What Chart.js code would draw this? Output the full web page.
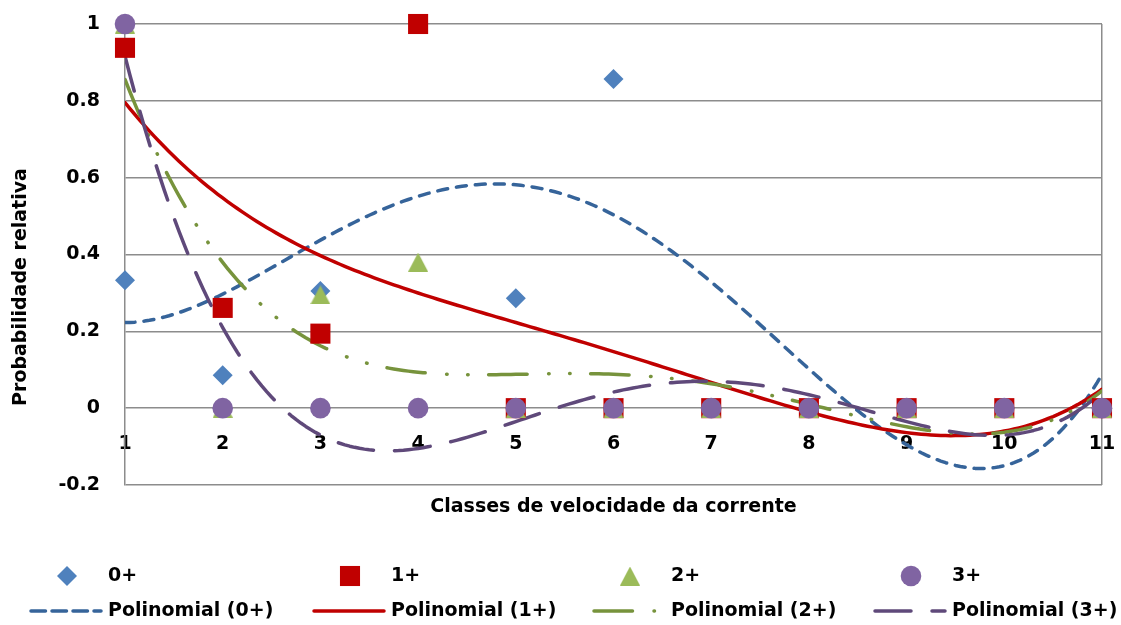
<!DOCTYPE html>
<html>
<head>
<meta charset="utf-8">
<script src="https://cdn.jsdelivr.net/npm/chart.js@4.4.1/dist/chart.umd.min.js"></script>
<style>
  html, body { margin: 0; padding: 0; background: #ffffff; }
  #wrap { position: relative; width: 1121px; height: 625px; }
</style>
</head>
<body>
<div id="wrap"><canvas id="chart" width="1121" height="625"></canvas></div>
<script>
// Current-speed classes and relative probability per age group
const classes = [1, 2, 3, 4, 5, 6, 7, 8, 9, 10, 11];
const age0 = [0.333, 0.086, 0.305, 1, 0.286, 0.857, 0, 0, 0, 0, 0];
const age1 = [0.938, 0.261, 0.194, 1, 0, 0, 0, 0, 0, 0, 0];
const age2 = [1, 0, 0.295, 0.38, 0, 0, 0, 0, 0, 0, 0];
const age3 = [1, 0, 0, 0, 0, 0, 0, 0, 0, 0, 0];
const groupNames = ['0+', '1+', '2+', '3+'];
const yTicks = [-0.2, 0, 0.2, 0.4, 0.6, 0.8, 1];
const trendDegree = 4;

const FONT = '"DejaVu Sans"';
const FS = 19;
const GRID = '#8c8c8c';

// least-squares polynomial fit (x centred/scaled for numerical stability)
function polyFit(xs, ys, deg) {
  const mid = (xs[0] + xs[xs.length - 1]) / 2;
  const half = (xs[xs.length - 1] - xs[0]) / 2;
  const t = xs.map(x => (x - mid) / half);
  const n = deg + 1;
  const A = [], b = [];
  for (let i = 0; i < n; i++) {
    A.push(new Array(n).fill(0));
    b.push(0);
  }
  t.forEach((tv, k) => {
    for (let i = 0; i < n; i++) {
      b[i] += ys[k] * Math.pow(tv, i);
      for (let j = 0; j < n; j++) A[i][j] += Math.pow(tv, i + j);
    }
  });
  for (let c = 0; c < n; c++) {
    let p = c;
    for (let r = c + 1; r < n; r++) if (Math.abs(A[r][c]) > Math.abs(A[p][c])) p = r;
    [A[c], A[p]] = [A[p], A[c]];
    [b[c], b[p]] = [b[p], b[c]];
    for (let r = c + 1; r < n; r++) {
      const f = A[r][c] / A[c][c];
      for (let j = c; j < n; j++) A[r][j] -= f * A[c][j];
      b[r] -= f * b[c];
    }
  }
  const coef = new Array(n).fill(0);
  for (let r = n - 1; r >= 0; r--) {
    let s = b[r];
    for (let j = r + 1; j < n; j++) s -= A[r][j] * coef[j];
    coef[r] = s / A[r][r];
  }
  return x => {
    const u = (x - mid) / half;
    let v = 0;
    for (let k = n - 1; k >= 0; k--) v = v * u + coef[k];
    return v;
  };
}

// sample the fitted trend curve across the class range
function trendPoints(vals) {
  const f = polyFit(classes, vals, trendDegree);
  const first = classes[0], last = classes[classes.length - 1];
  const steps = (last - first) * 20;
  const pts = [];
  for (let k = 0; k <= steps; k++) {
    const x = first + (last - first) * k / steps;
    pts.push({ x, y: f(x) });
  }
  return pts;
}

// triangle marker centred on its bounding box
function triangleMarker(color, w, h) {
  const c = document.createElement('canvas');
  c.width = w; c.height = h;
  const g = c.getContext('2d');
  g.fillStyle = color;
  g.beginPath();
  g.moveTo(w / 2, 0);
  g.lineTo(w, h);
  g.lineTo(0, h);
  g.closePath();
  g.fill();
  return c;
}

const seriesValues = [age0, age1, age2, age3];
const markerStyle = [
  { color: '#4F81BD', pointStyle: 'rectRot', radius: 10 },
  { color: '#C00000', pointStyle: 'rect', radius: 14.2 },
  { color: '#9BBB59', pointStyle: triangleMarker('#9BBB59', 20, 19), radius: 10 },
  { color: '#8064A2', pointStyle: 'circle', radius: 10.3 }
];
const trendStyle = [
  { color: '#36649A', dash: [10, 9], legendDash: [14.5, 6.5] },
  { color: '#C00000', dash: [] },
  { color: '#77933C', dash: [38.5, 21.5, 0.5, 20.5, 0.5, 20.5] },
  { color: '#5F497A', dash: [36, 21] }
];

const datasets = [];
seriesValues.forEach((vals, i) => {
  datasets.push({
    type: 'scatter',
    label: groupNames[i],
    data: classes.map((c, k) => ({ x: c, y: vals[k] })),
    showLine: false,
    clip: false,
    pointStyle: markerStyle[i].pointStyle,
    pointRadius: markerStyle[i].radius,
    pointHoverRadius: markerStyle[i].radius,
    pointBorderWidth: 0,
    backgroundColor: markerStyle[i].color,
    borderColor: markerStyle[i].color,
    order: 4 - i
  });
});
seriesValues.forEach((vals, i) => {
  datasets.push({
    type: 'line',
    label: 'Polinomial (' + groupNames[i] + ')',
    data: trendPoints(vals),
    borderColor: trendStyle[i].color,
    borderWidth: 3.5,
    borderDash: trendStyle[i].dash,
    legendDash: trendStyle[i].legendDash || trendStyle[i].dash,
    borderCapStyle: 'round',
    borderJoinStyle: 'round',
    pointRadius: 0,
    tension: 0,
    fill: false,
    order: 8 - i
  });
});

// axis titles and a 4-column legend grid under the plot
const decorations = {
  id: 'decorations',
  afterDraw(chart, args, opts) {
    const ctx = chart.ctx;
    const area = chart.chartArea;
    ctx.save();
    ctx.font = `bold ${FS}px ${FONT}`;
    ctx.fillStyle = '#000';
    ctx.textBaseline = 'middle';
    ctx.textAlign = 'center';
    ctx.fillText(opts.xTitle, (area.left + area.right) / 2, opts.xTitleY);
    ctx.save();
    ctx.translate(opts.yTitleX, opts.yTitleY);
    ctx.rotate(-Math.PI / 2);
    ctx.fillText(opts.yTitle, 0, 0);
    ctx.restore();

    ctx.textAlign = 'left';
    chart.data.datasets.forEach((ds, i) => {
      const col = i % 4, row = Math.floor(i / 4);
      const tx = opts.textX[col], ty = opts.rowY[row];
      if (ds.type === 'scatter') {
        ctx.fillStyle = ds.backgroundColor;
        Chart.helpers.drawPoint(ctx, { pointStyle: ds.pointStyle, radius: ds.pointRadius, borderWidth: 0, rotation: 0 }, tx - 41, ty);
      } else {
        ctx.save();
        ctx.strokeStyle = ds.borderColor;
        ctx.lineWidth = ds.borderWidth;
        ctx.lineCap = 'round';
        ctx.setLineDash(ds.legendDash);
        ctx.beginPath();
        ctx.moveTo(tx - 77, ty);
        ctx.lineTo(tx - 7, ty);
        ctx.stroke();
        ctx.restore();
      }
      ctx.fillStyle = '#000';
      ctx.fillText(ds.label, tx, ty);
    });
    ctx.restore();
  }
};

const tickFont = { family: FONT, size: FS, weight: 'bold' };

// the plot frame is fixed by layout.padding; labels may overhang it
function noOverhang(s) {
  s.paddingTop = 0; s.paddingBottom = 0; s.paddingLeft = 0; s.paddingRight = 0;
}

new Chart(document.getElementById('chart'), {
  data: { datasets },
  options: {
    responsive: false,
    animation: false,
    events: [],
    layout: { padding: { left: 0, right: 19, top: 24, bottom: 140 } },
    plugins: {
      legend: { display: false },
      tooltip: { enabled: false },
      decorations: {
        xTitle: 'Classes de velocidade da corrente',
        yTitle: 'Probabilidade relativa',
        xTitleY: 507,
        yTitleX: 21,
        yTitleY: 287,
        textX: [108, 391, 671, 952],
        rowY: [576, 611]
      }
    },
    scales: {
      x: {
        type: 'linear',
        position: { y: 0 },
        min: classes[0],
        max: classes[classes.length - 1],
        afterBuildTicks: s => { s.ticks = classes.map(v => ({ value: v })); },
        afterFit: noOverhang,
        ticks: { font: tickFont, color: '#000', padding: 24, autoSkip: false, maxRotation: 0 },
        grid: {
          drawTicks: false,
          lineWidth: 1.5,
          color: c => (c.tick && c.tick.value === classes[classes.length - 1]) ? GRID : 'rgba(0,0,0,0)'
        },
        border: { display: false }
      },
      y: {
        type: 'linear',
        position: 'left',
        min: yTicks[0],
        max: yTicks[yTicks.length - 1],
        afterBuildTicks: s => { s.ticks = yTicks.map(v => ({ value: v })); },
        afterFit: s => { noOverhang(s); s.width = 125; },
        ticks: { font: tickFont, color: '#000', padding: 25, callback: v => String(v) },
        grid: { drawTicks: false, color: GRID, lineWidth: 1.5 },
        border: { display: true, color: GRID, width: 1.5 }
      }
    }
  },
  plugins: [decorations]
});
</script>
</body>
</html>
